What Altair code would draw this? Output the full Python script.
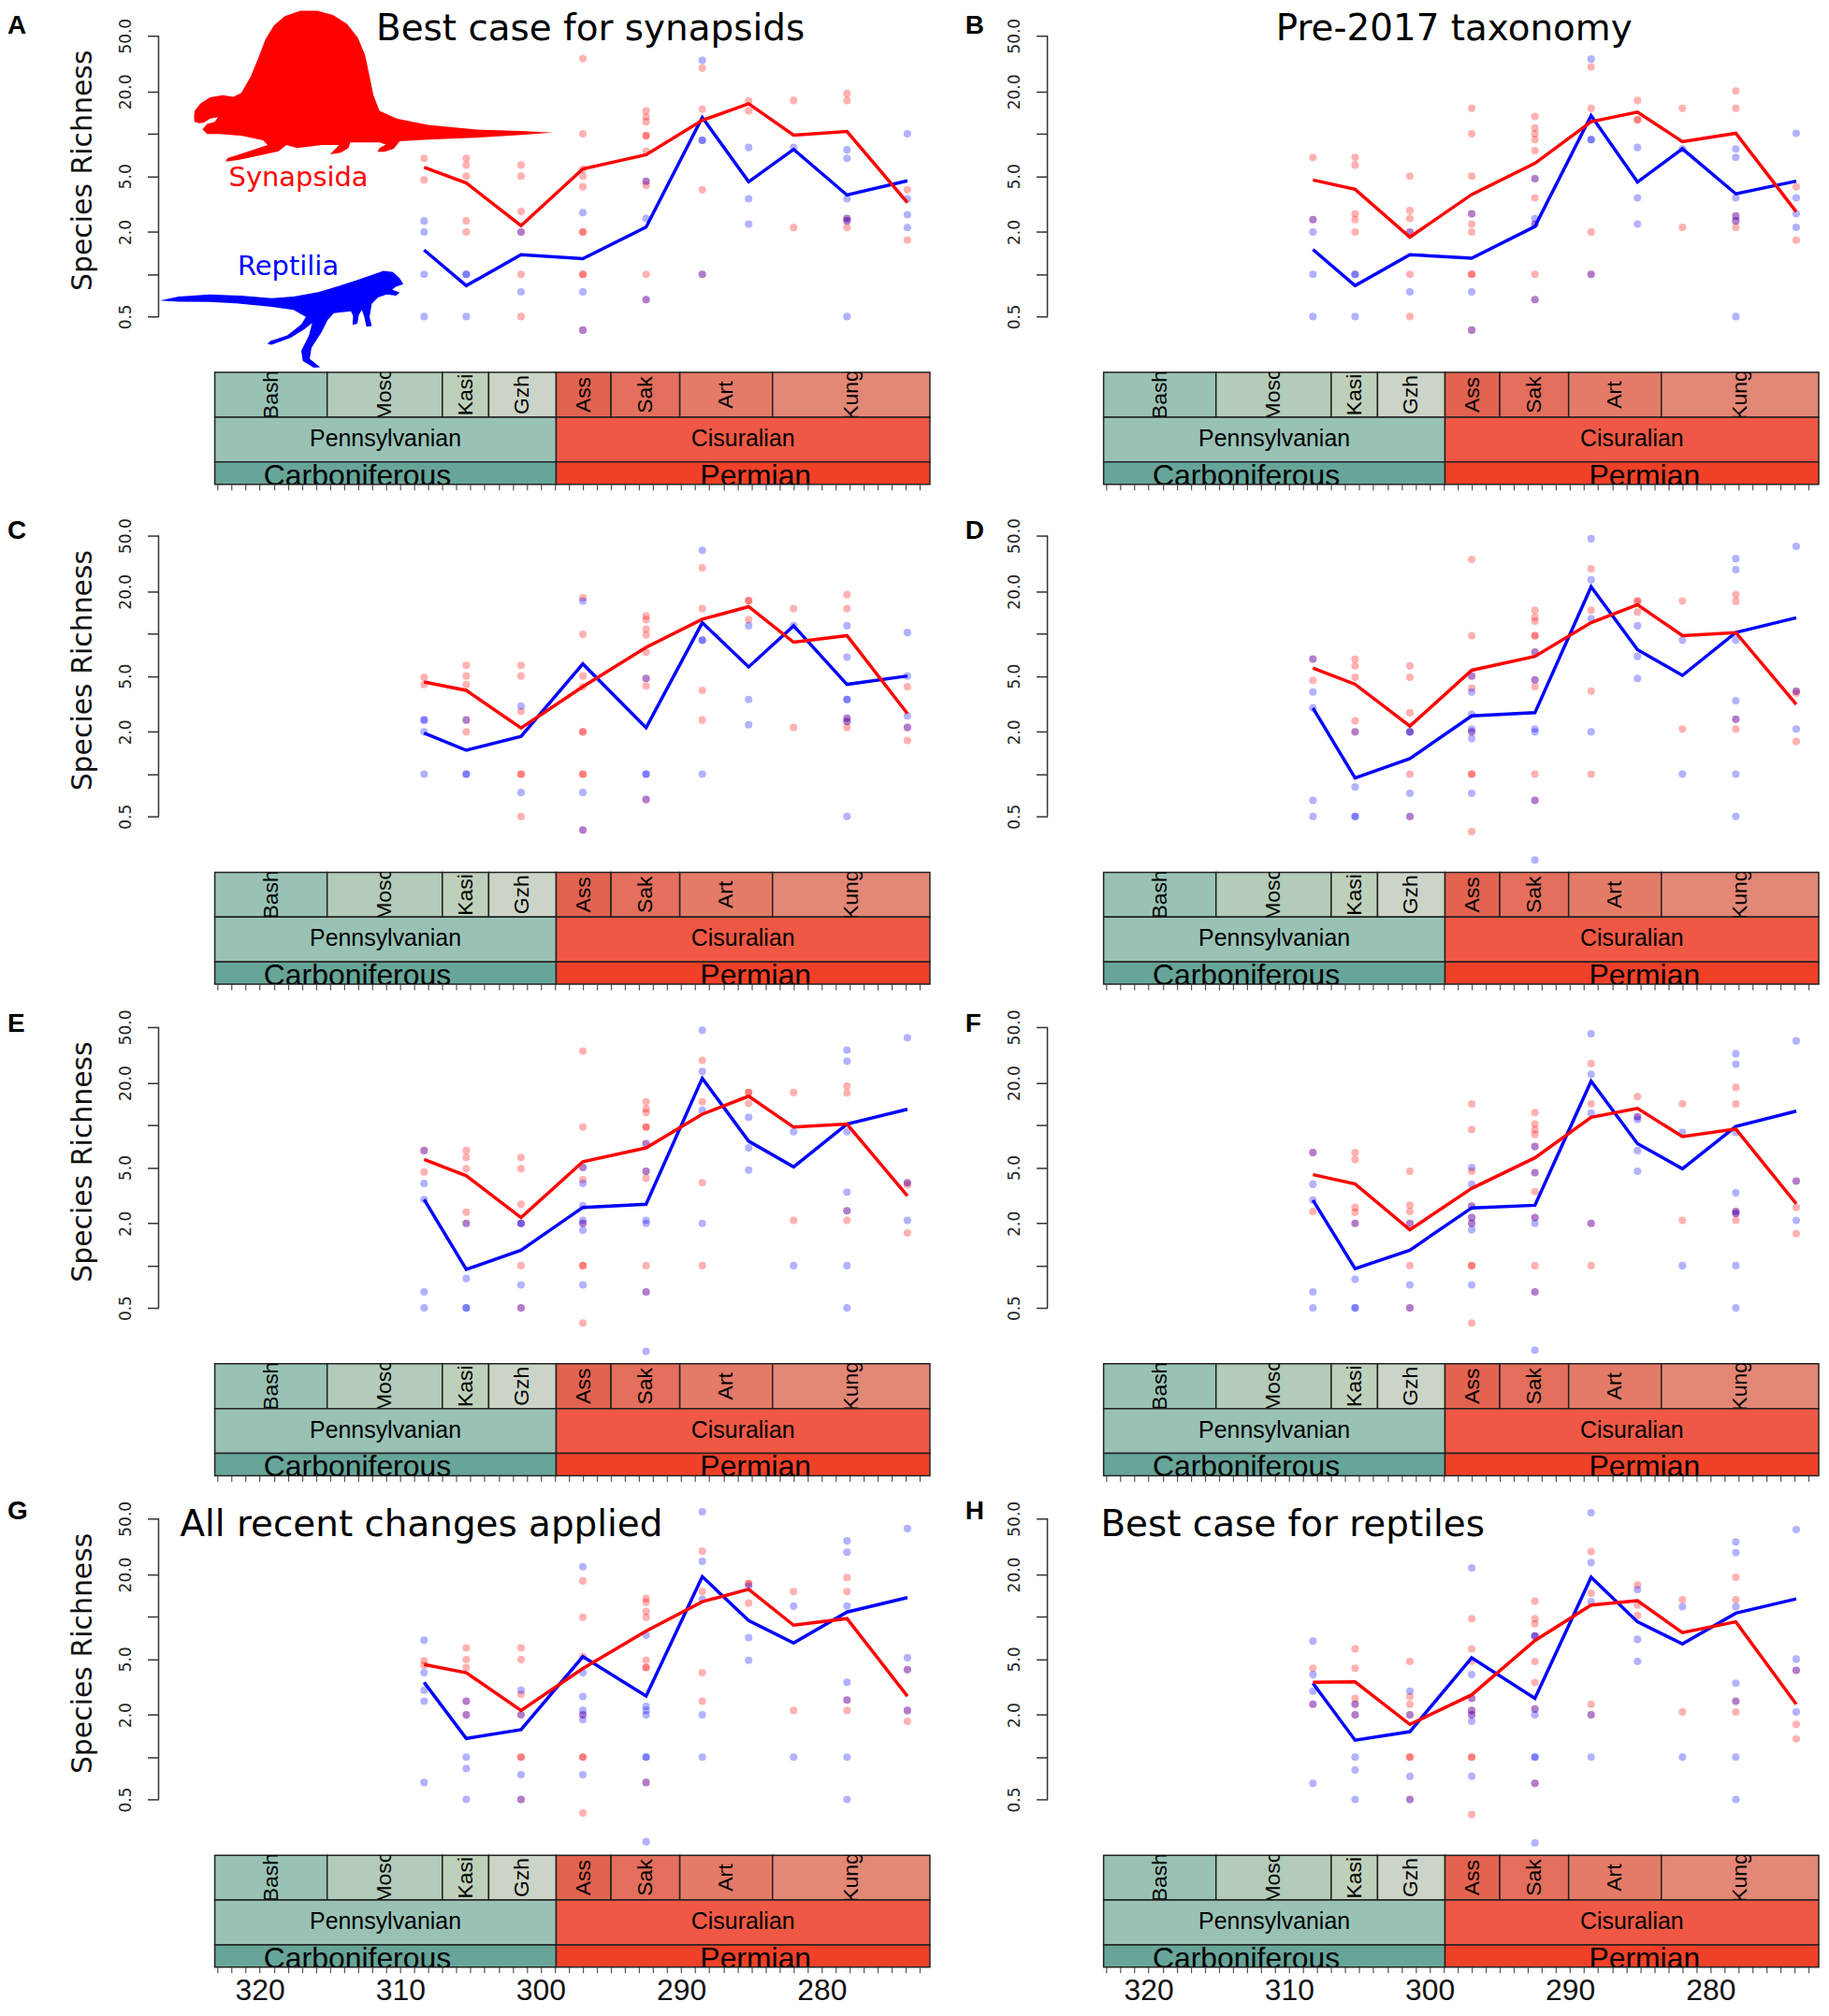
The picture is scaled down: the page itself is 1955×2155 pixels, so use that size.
import altair as alt
import pandas as pd

# ---------------- data ----------------
BIN_AGES = [308.3, 305.3, 301.4, 297.0, 292.5, 288.5, 285.2, 282.0, 278.2, 273.9]

A_SYN_LINE = [5.78, 4.47, 2.22, 5.63, 7.1, 12.5, 16.4, 9.8, 10.4, 3.24]
A_REP_LINE = [1.49, 0.83, 1.38, 1.29, 2.17, 13.1, 4.56, 7.76, 3.67, 4.63]
A_SYN_PTS = [[6.7, 4.7], [6.7, 6.0, 5.0, 2.4, 2.0], [6.0, 5.0, 2.8, 2.0, 1.0, 0.5],
             [34.3, 10.0, 5.6, 5.0, 4.2, 2.0, 2.0, 1.0, 1.0, 0.4],
             [14.6, 13.2, 12.2, 9.7, 9.7, 7.5, 4.6, 4.3, 1.0, 0.66],
             [29.4, 15.0, 4.0, 1.0], [17.1, 14.6], [17.3, 2.15], [19.4, 17.3, 2.5, 2.4, 2.15], [4.0, 1.75]]
A_REP_PTS = [[2.4, 2.0, 1.0, 0.5], [1.0, 1.0, 0.5], [2.0, 0.75], [2.75, 0.75, 0.4], [4.6, 2.5, 0.66],
             [33.4, 9.0, 9.0, 1.0], [8.0, 3.45, 2.28], [8.0], [7.7, 6.7, 3.45, 2.5, 2.4, 0.5],
             [10.0, 3.45, 2.66, 2.15]]

B_SYN_LINE = [4.70, 4.03, 1.84, 3.70, 6.17, 12.2, 14.3, 8.81, 10.1, 2.79]
B_REP_LINE = [1.50, 0.83, 1.38, 1.30, 2.19, 13.5, 4.54, 7.83, 3.74, 4.61]
B_SYN_PTS = [[6.8, 2.45], [6.8, 6.0, 2.7, 2.45, 2.0], [5.0, 2.84, 2.5, 2.0, 1.0, 0.5],
             [15.2, 10.0, 5.0, 2.7, 2.28, 2.0, 1.0, 1.0, 0.4],
             [13.3, 11.0, 10.0, 9.1, 7.6, 4.8, 3.5, 2.28, 1.0, 0.66],
             [30.0, 15.2, 2.0, 1.0], [17.3, 12.6, 12.6], [15.2, 2.16], [20.2, 15.2, 2.6, 2.4, 2.16], [4.2, 1.75]]
B_REP_PTS = [[2.45, 2.0, 1.0, 0.5], [1.0, 1.0, 0.5], [2.0, 0.75], [2.7, 0.75, 0.4], [4.8, 2.5, 2.28, 0.66],
             [34.1, 9.1, 9.1, 1.0], [8.0, 3.5, 2.28], [7.8], [7.8, 6.8, 3.5, 2.6, 2.4, 0.5],
             [10.1, 3.5, 2.7, 2.16]]

C_SYN_LINE = [4.54, 3.95, 2.13, 4.2, 8.0, 12.7, 15.6, 8.7, 9.7, 2.7]
C_REP_LINE = [1.96, 1.48, 1.86, 6.1, 2.14, 12.0, 5.8, 11.4, 4.36, 5.0]
C_SYN_PTS = [[4.9, 4.35], [5.95, 5.0, 4.35, 2.43, 2.0], [5.95, 5.0, 2.8, 1.0, 1.0, 0.5],
             [18.0, 9.9, 5.0, 4.2, 2.0, 2.0, 1.0, 1.0, 0.4],
             [13.4, 12.6, 10.8, 9.8, 7.4, 4.8, 4.25, 0.66],
             [29.5, 15.1, 3.95, 2.43], [17.2, 17.2, 12.6], [15.1, 2.15], [19.0, 15.1, 2.5, 2.37, 2.15],
             [4.2, 2.15, 1.74]]
C_REP_PTS = [[2.43, 2.43, 2.0, 1.0], [2.43, 1.0, 1.0], [3.05, 0.74], [17.1, 0.74, 0.4], [4.8, 1.0, 1.0, 0.66],
             [39.3, 9.0, 9.0, 1.0], [11.4, 3.4, 2.25], [11.4], [11.4, 6.8, 3.4, 3.4, 2.5, 2.37, 0.5],
             [10.2, 5.0, 2.6, 2.15]]

D_SYN_LINE = [5.7, 4.37, 2.2, 5.5, 6.9, 12.0, 16.1, 9.7, 10.2, 3.14]
D_REP_LINE = [2.96, 0.94, 1.29, 2.6, 2.74, 21.6, 7.7, 5.05, 10.2, 13.0]
D_SYN_PTS = [[6.6, 4.65], [6.6, 5.9, 4.9, 2.4, 2.0], [5.9, 4.9, 2.74, 2.0, 1.0, 0.5],
             [33.8, 9.7, 5.0, 4.1, 2.0, 1.0, 1.0, 0.39],
             [14.7, 13.1, 12.3, 9.7, 9.7, 7.4, 4.7, 4.2, 1.0, 0.65],
             [29.0, 14.7, 3.9, 1.0], [17.1, 17.1, 14.3], [17.1, 2.1], [19.0, 17.0, 2.46, 2.1], [3.9, 3.77, 1.71]]
D_REP_PTS = [[6.6, 3.85, 2.96, 0.65, 0.5], [2.0, 0.81, 0.5, 0.5], [2.0, 2.0, 0.73, 0.5],
             [5.0, 3.85, 2.67, 2.1, 2.0, 1.79, 0.73], [7.4, 4.7, 2.1, 2.0, 0.65, 0.245],
             [47.5, 24.2, 12.8, 2.0], [11.4, 6.9, 4.8], [9.0, 1.0], [34.3, 28.6, 9.0, 3.34, 2.46, 1.0, 0.5],
             [42.0, 3.9, 2.1]]

E_SYN_LINE = [5.7, 4.37, 2.2, 5.5, 6.9, 12.0, 16.1, 9.7, 10.2, 3.14]
E_REP_LINE = [2.96, 0.94, 1.29, 2.6, 2.74, 21.6, 7.7, 5.05, 10.2, 13.0]
E_SYN_PTS = D_SYN_PTS
E_REP_PTS = D_REP_PTS

F_SYN_LINE = [4.45, 3.82, 1.80, 3.55, 5.86, 11.4, 13.2, 8.3, 9.4, 2.76]
F_REP_LINE = [2.93, 0.95, 1.29, 2.58, 2.69, 20.6, 7.4, 4.9, 9.8, 12.6]
F_SYN_PTS = [[6.4, 2.43], [6.4, 5.7, 2.6, 2.4, 2.0], [4.7, 2.7, 2.43, 2.0, 1.0, 0.5],
             [14.2, 9.3, 4.7, 2.65, 2.2, 2.0, 1.0, 1.0, 0.39],
             [12.3, 10.2, 9.3, 8.6, 7.05, 4.6, 3.37, 2.2, 1.0, 0.65],
             [27.5, 14.2, 2.0, 1.0], [16.0, 11.5], [14.2, 2.1], [18.6, 14.2, 2.43, 2.35, 2.1], [4.0, 2.6, 1.69]]
F_REP_PTS = [[6.4, 3.8, 2.93, 0.65, 0.5], [2.0, 0.8, 0.5, 0.5], [2.0, 0.73, 0.5],
             [5.0, 3.8, 2.65, 2.2, 2.0, 1.8, 0.73], [7.05, 4.6, 2.2, 2.0, 0.65, 0.25],
             [44.8, 23.1, 12.2, 2.0], [11.5, 11.0, 6.6, 4.7], [8.9, 1.0],
             [32.3, 27.2, 8.9, 3.3, 2.43, 2.35, 1.0, 0.5], [39.9, 4.0, 2.1]]

G_SYN_LINE = [4.57, 3.99, 2.15, 4.28, 7.9, 12.8, 15.7, 8.7, 9.7, 2.72]
G_REP_LINE = [3.41, 1.36, 1.57, 5.2, 2.72, 19.3, 9.4, 6.5, 10.8, 13.7]
G_SYN_PTS = [[4.85, 4.5], [6.0, 4.95, 4.35, 2.5, 2.0], [6.0, 4.95, 2.8, 2.0, 1.0, 1.0, 0.5],
             [18.0, 9.9, 5.2, 2.0, 1.0, 1.0, 0.4],
             [13.5, 12.7, 10.9, 9.9, 4.9, 4.35, 4.35, 0.66],
             [29.3, 15.1, 3.99, 2.5], [17.2, 17.2, 12.5], [15.1, 2.15], [19.0, 15.1, 2.55, 2.15], [4.2, 2.15, 1.8]]
G_REP_PTS = [[6.8, 3.99, 3.0, 2.5, 0.66], [2.5, 2.0, 1.0, 0.83, 0.5], [3.0, 2.0, 0.75, 0.5],
             [22.7, 3.99, 2.7, 2.15, 2.0, 1.85, 0.75], [7.4, 2.3, 2.15, 2.0, 1.0, 1.0, 0.66, 0.25],
             [55.9, 24.8, 13.3, 2.0, 1.0], [16.5, 7.1, 4.9], [11.9, 1.0],
             [34.7, 28.8, 11.9, 3.41, 2.55, 1.0, 0.5], [42.5, 5.1, 4.2, 2.15]]

H_SYN_LINE = [3.41, 3.44, 1.71, 2.78, 6.76, 12.1, 13.0, 7.7, 9.2, 2.38]
H_REP_LINE = [3.36, 1.32, 1.52, 5.1, 2.62, 19.1, 9.2, 6.4, 10.6, 13.4]
H_SYN_PTS = [[4.3, 2.38], [5.9, 4.3, 2.62, 2.38, 2.0], [4.8, 2.7, 2.38, 2.0, 1.0, 1.0, 0.5],
             [9.7, 5.9, 4.8, 2.62, 2.15, 2.0, 1.0, 1.0, 0.39],
             [12.9, 9.7, 8.9, 7.3, 4.8, 3.4, 2.2, 0.65],
             [29.1, 14.7, 2.38, 2.0], [16.8, 12.1, 10.2], [13.2, 2.1], [19.1, 13.2, 2.5, 2.1], [4.15, 1.71, 1.35]]
H_REP_PTS = [[6.7, 3.87, 2.95, 2.38, 0.65], [2.38, 2.0, 1.0, 0.81, 0.5], [2.95, 2.0, 0.73, 0.5],
             [22.3, 3.87, 2.62, 2.15, 2.0, 1.8, 0.73], [7.3, 7.3, 2.2, 2.0, 1.0, 1.0, 0.65, 0.245],
             [55.1, 24.3, 12.8, 2.0, 1.0], [15.6, 6.9, 4.8], [11.8, 1.0],
             [34.1, 28.6, 11.8, 3.36, 2.5, 1.0, 0.5], [41.8, 5.0, 4.15, 2.1]]

DATA = {
    "A": (A_SYN_LINE, A_REP_LINE, A_SYN_PTS, A_REP_PTS),
    "B": (B_SYN_LINE, B_REP_LINE, B_SYN_PTS, B_REP_PTS),
    "C": (C_SYN_LINE, C_REP_LINE, C_SYN_PTS, C_REP_PTS),
    "D": (D_SYN_LINE, D_REP_LINE, D_SYN_PTS, D_REP_PTS),
    "E": (E_SYN_LINE, E_REP_LINE, E_SYN_PTS, E_REP_PTS),
    "F": (F_SYN_LINE, F_REP_LINE, F_SYN_PTS, F_REP_PTS),
    "G": (G_SYN_LINE, G_REP_LINE, G_SYN_PTS, G_REP_PTS),
    "H": (H_SYN_LINE, H_REP_LINE, H_SYN_PTS, H_REP_PTS),
}
TITLES = {"A": "Best case for synapsids", "B": "Pre-2017 taxonomy",
          "G": "All recent changes applied", "H": "Best case for reptiles"}

STAGE_NAMES = ["Bash", "Mosc", "Kasi", "Gzh", "Ass", "Sak", "Art", "Kung"]
STAGE_BASE = [323.2, 315.2, 307.0, 303.7, 298.9, 295.0, 290.1, 283.5]
STAGE_TOP = [315.2, 307.0, 303.7, 298.9, 295.0, 290.1, 283.5, 272.3]
STAGE_COLORS = ["#99C2B5", "#B3CBB9", "#BFD0BA", "#CCD4C7", "#E36350", "#E36F5C", "#E37B68", "#E38776"]
EPOCH_NAMES = ["Pennsylvanian", "Cisuralian"]
EPOCH_BASE = [323.2, 298.9]
EPOCH_TOP = [298.9, 272.3]
EPOCH_COLORS = ["#99C2B5", "#EF5845"]
PERIOD_NAMES = ["Carboniferous", "Permian"]
PERIOD_BASE = [323.2, 298.9]
PERIOD_TOP = [298.9, 272.3]
PERIOD_FULL_BASE = [358.9, 298.9]
PERIOD_FULL_TOP = [298.9, 252.2]
PERIOD_COLORS = ["#67A599", "#F04028"]
LABEL_WINDOW = [327.2, 270.5]   # plot window in which period names are centred

X_DOMAIN = [327.2, 272.3]
Y_DOMAIN = [0.2, 70]
Y_TICKS = [0.5, 1, 2, 5, 10, 20, 50]
X_TICKS = list(range(273, 324))

# silhouettes (decorative glyphs drawn as unit-square symbol paths)
_DIM = [(-1.000, 0.176), (-0.997, 0.138), (-0.962, 0.095), (-0.910, 0.063), (-0.840, 0.051),
        (-0.780, 0.060), (-0.736, 0.037), (-0.684, -0.053), (-0.641, -0.157), (-0.601, -0.261),
        (-0.554, -0.339), (-0.493, -0.391), (-0.406, -0.421), (-0.311, -0.421), (-0.224, -0.397),
        (-0.146, -0.348), (-0.085, -0.270), (-0.045, -0.174), (-0.021, -0.062), (0.002, 0.051),
        (0.036, 0.138), (0.132, 0.181), (0.306, 0.216), (0.566, 0.242), (0.826, 0.251), (1.000, 0.260),
        (0.826, 0.273), (0.566, 0.289), (0.306, 0.299), (0.149, 0.308), (0.132, 0.329), (0.115, 0.350),
        (0.063, 0.367), (0.024, 0.367), (0.036, 0.346), (0.071, 0.326), (0.036, 0.315), (-0.042, 0.315),
        (-0.128, 0.315), (-0.137, 0.346), (-0.181, 0.372), (-0.241, 0.381), (-0.215, 0.355),
        (-0.189, 0.329), (-0.285, 0.329), (-0.424, 0.346), (-0.484, 0.329), (-0.528, 0.364),
        (-0.684, 0.398), (-0.753, 0.412), (-0.823, 0.421), (-0.814, 0.402), (-0.719, 0.372),
        (-0.589, 0.329), (-0.615, 0.303), (-0.736, 0.277), (-0.858, 0.268), (-0.927, 0.268),
        (-0.953, 0.242), (-0.927, 0.211), (-0.884, 0.199), (-0.866, 0.173), (-0.910, 0.181),
        (-0.944, 0.204), (-0.970, 0.207), (-0.997, 0.199)]
_REP = [(-1.000, -0.153), (-0.847, -0.186), (-0.592, -0.204), (-0.337, -0.194), (-0.082, -0.173),
        (0.097, -0.186), (0.301, -0.224), (0.480, -0.276), (0.633, -0.327), (0.760, -0.372),
        (0.837, -0.398), (0.913, -0.388), (0.969, -0.339), (1.000, -0.288), (0.939, -0.268),
        (0.908, -0.245), (0.969, -0.219), (0.939, -0.194), (0.862, -0.204), (0.791, -0.179),
        (0.740, -0.128), (0.722, -0.020), (0.740, 0.056), (0.696, 0.061), (0.679, -0.020),
        (0.658, -0.077), (0.633, -0.033), (0.622, 0.036), (0.582, 0.046), (0.587, -0.026),
        (0.569, -0.066), (0.429, -0.051), (0.378, 0.005), (0.327, 0.107), (0.245, 0.235),
        (0.230, 0.324), (0.316, 0.393), (0.263, 0.398), (0.173, 0.342), (0.161, 0.260), (0.224, 0.133),
        (0.250, 0.031), (0.186, 0.082), (0.071, 0.153), (-0.082, 0.209), (-0.117, 0.204),
        (-0.094, 0.179), (0.046, 0.133), (0.161, 0.043), (0.199, -0.020), (0.097, -0.077),
        (-0.082, -0.102), (-0.337, -0.128), (-0.592, -0.143), (-0.847, -0.145)]


def to_path(pts):
    return "M" + " L".join(f"{x:.3f},{y:.3f}" for x, y in pts) + " Z"


DIMETRODON = to_path(_DIM)
REPTILE = to_path(_REP)

# ---------------- layout ----------------
PW, PH = 827, 383
GEO_H = [48, 48, 24]
COL_GAP = 126
ROW_GAPS = [33, 24, 24]
LETTER_Y = [12, 17, 19, 15]

XS = alt.Scale(domain=X_DOMAIN, nice=False, zero=False)
YS = alt.Scale(type="log", domain=Y_DOMAIN, nice=False)
CS = alt.Scale(domain=["Synapsida", "Reptilia"], range=["#FF0000", "#0000FF"])
ONE = pd.DataFrame({"k": [0]})


def points_df(syn, rep):
    rows = []
    for age, vals in zip(BIN_AGES, syn):
        rows += [{"age": age, "richness": v, "clade": "Synapsida"} for v in vals]
    for age, vals in zip(BIN_AGES, rep):
        rows += [{"age": age, "richness": v, "clade": "Reptilia"} for v in vals]
    return pd.DataFrame(rows)


def lines_df(syn, rep):
    return pd.DataFrame({"age": BIN_AGES + BIN_AGES, "richness": rep + syn,
                         "clade": ["Reptilia"] * len(rep) + ["Synapsida"] * len(syn)})


def label(text, x, y, **kw):
    return alt.Chart(pd.DataFrame({"t": [text]})).mark_text(**kw).encode(
        text="t:N", x=alt.value(x), y=alt.value(y))


def scatter_part(key, row, left):
    syn_line, rep_line, syn_pts, rep_pts = DATA[key]
    yax = alt.Axis(values=Y_TICKS,
                   labelExpr="(datum.value == 1 || datum.value == 10) ? '' : format(datum.value, '.1f')",
                   tickSize=12, tickWidth=1.5, tickColor="#333", domain=False, grid=False,
                   labelAngle=270, labelAlign="center", labelBaseline="bottom", labelPadding=14,
                   labelFontSize=17, labelFont="DejaVu Sans", labelColor="#222",
                   title="Species Richness" if left else None, titleFont="DejaVu Sans",
                   titleFontSize=30, titleFontWeight="normal", titleColor="#111",
                   titlePadding=22, titleY=166)
    x = alt.X("age:Q", scale=XS, axis=None)
    y = alt.Y("richness:Q", scale=YS, axis=yax)
    color = alt.Color("clade:N", scale=CS, legend=None)
    layers = []
    if key == "A":
        layers.append(alt.Chart(ONE).mark_point(shape=DIMETRODON, size=384 * 384, filled=True,
                                                color="#FF0000", opacity=1, strokeWidth=0)
                      .encode(x=alt.value(230), y=alt.value(76)))
        layers.append(alt.Chart(ONE).mark_point(shape=REPTILE, size=261 * 261, filled=True,
                                                color="#0000FF", opacity=1, strokeWidth=0)
                      .encode(x=alt.value(132), y=alt.value(326)))
        layers.append(label("Synapsida", 150, 183, font="DejaVu Sans", fontSize=29, color="#FF0000",
                            align="center", baseline="alphabetic"))
        layers.append(label("Reptilia", 139, 279, font="DejaVu Sans", fontSize=29, color="#0000FF",
                            align="center", baseline="alphabetic"))
    layers.append(alt.Chart(ONE).mark_rule(color="#333", strokeWidth=1.5).encode(
        x=alt.value(0),
        y=alt.Y(datum=0.5, type="quantitative", scale=YS, axis=yax),
        y2=alt.Y2(datum=50)))
    layers.append(alt.Chart(points_df(syn_pts, rep_pts)).mark_circle(size=66, opacity=0.3)
                  .encode(x=x, y=y, color=color))
    layers.append(alt.Chart(lines_df(syn_line, rep_line)).mark_line(strokeWidth=3.5)
                  .encode(x=x, y=y, color=color))
    layers.append(label(key, -162 if left else -88, LETTER_Y[row], font="Liberation Sans", fontSize=28,
                        fontWeight="bold", color="black", align="left", baseline="middle"))
    tkw = dict(font="DejaVu Sans", fontSize=39, baseline="alphabetic", color="black")
    if key == "A":
        layers.append(label(TITLES[key], 463, 27, align="center", **tkw))
    elif key == "B":
        layers.append(label(TITLES[key], 436, 27, align="center", **tkw))
    elif key == "G":
        layers.append(label(TITLES[key], 23, 41, align="left", **tkw))
    elif key == "H":
        layers.append(label(TITLES[key], 57, 41, align="left", **tkw))
    return alt.layer(*layers).properties(width=PW, height=PH)


def x_axis(bottom):
    kw = dict(values=X_TICKS, tickSize=6, tickColor="#555", tickWidth=1.2, domain=False,
              grid=False, title=None)
    if bottom:
        kw.update(labels=True, labelExpr="datum.value % 10 == 0 ? datum.label : ''",
                  labelFontSize=32, labelFont="Liberation Sans", labelColor="#111",
                  labelPadding=4, labelOverlap=False, labelFlush=False)
    else:
        kw.update(labels=False)
    return alt.Axis(**kw)


def band_part(level, bottom):
    if level == 0:
        df = pd.DataFrame({"name": STAGE_NAMES, "start": STAGE_BASE, "end": STAGE_TOP,
                           "color": STAGE_COLORS})
        df["mid"] = [(a + b) / 2 for a, b in zip(STAGE_BASE, STAGE_TOP)]
        tkw = dict(angle=270, align="center", baseline="middle", fontSize=23, clip=True)
        ty = GEO_H[0] / 2
    elif level == 1:
        df = pd.DataFrame({"name": EPOCH_NAMES, "start": EPOCH_BASE, "end": EPOCH_TOP,
                           "color": EPOCH_COLORS})
        df["mid"] = [(a + b) / 2 for a, b in zip(EPOCH_BASE, EPOCH_TOP)]
        tkw = dict(align="center", baseline="alphabetic", fontSize=25, clip=True)
        ty = 31
    else:
        df = pd.DataFrame({"name": PERIOD_NAMES, "start": PERIOD_BASE, "end": PERIOD_TOP,
                           "color": PERIOD_COLORS})
        df["mid"] = [(min(a, LABEL_WINDOW[0]) + max(b, LABEL_WINDOW[1])) / 2
                     for a, b in zip(PERIOD_FULL_BASE, PERIOD_FULL_TOP)]
        tkw = dict(align="center", baseline="alphabetic", fontSize=32, clip=True)
        ty = 25
    axis = x_axis(bottom) if level == 2 else None
    rect = alt.Chart(df).mark_rect(stroke="#222", strokeWidth=1.5).encode(
        x=alt.X("start:Q", scale=XS, axis=axis), x2="end:Q",
        color=alt.Color("color:N", scale=None))
    txt = alt.Chart(df).mark_text(font="Liberation Sans", color="black", **tkw).encode(
        x=alt.X("mid:Q", scale=XS, axis=axis), y=alt.value(ty), text="name:N")
    return alt.layer(rect, txt).properties(width=PW, height=GEO_H[level])


def spacer(h):
    return alt.Chart(ONE).mark_point(opacity=0).encode(
        x=alt.value(0), y=alt.value(0)).properties(width=PW, height=h)


cells = []
for r, (kl, kr) in enumerate([("A", "B"), ("C", "D"), ("E", "F"), ("G", "H")]):
    bottom = r == 3
    cells += [scatter_part(kl, r, True), scatter_part(kr, r, False)]
    for lev in range(3):
        cells += [band_part(lev, bottom), band_part(lev, bottom)]
    if r < 3:
        cells += [spacer(ROW_GAPS[r]), spacer(ROW_GAPS[r])]

chart = alt.concat(*cells, columns=2, spacing={"row": 0, "column": COL_GAP},
                   bounds="flush", align="each")
chart = chart.properties(padding={"left": 0, "right": 2, "top": 0, "bottom": 0})
chart = chart.configure(font="DejaVu Sans").configure_view(stroke=None)

chart.save("out.html", embed_options={"renderer": "svg", "actions": False})
